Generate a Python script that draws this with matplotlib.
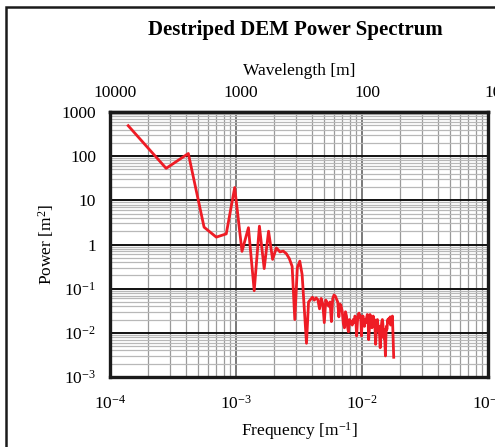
import numpy as np
import matplotlib.pyplot as plt
from matplotlib.patches import Rectangle
from matplotlib.transforms import ScaledTranslation

plt.rcParams['font.family'] = ['Liberation Serif', 'DejaVu Serif']
plt.rcParams['mathtext.fontset'] = 'custom'
plt.rcParams['mathtext.rm'] = 'Liberation Serif'
plt.rcParams['mathtext.it'] = 'Liberation Serif'

# frequency step of the spectrum [1/m]
df = 1.0 / 7168.0

# power [m^2], one value per harmonic k = 1..128
power = [
    490, 53, 115, 2.47, 1.47, 1.74, 19.5, 0.70, 2.4, 0.09,
    2.6, 0.285, 2.0, 0.46, 0.84, 0.68, 0.71, 0.62, 0.48, 0.32,
    0.02, 0.30, 0.42, 0.21, 0.035, 0.0058, 0.05, 0.057, 0.064, 0.055,
    0.062, 0.056, 0.035, 0.06, 0.045, 0.017, 0.055, 0.048, 0.04, 0.05,
    0.018, 0.06, 0.072, 0.068, 0.058, 0.05, 0.023, 0.045, 0.04, 0.03,
    0.016, 0.013, 0.03, 0.024, 0.014, 0.0105, 0.02, 0.016, 0.018, 0.015,
    0.02, 0.017, 0.024, 0.022, 0.0085, 0.018, 0.026, 0.028, 0.022, 0.024,
    0.0085, 0.02, 0.024, 0.018, 0.014, 0.02, 0.017, 0.022, 0.026, 0.024,
    0.007, 0.012, 0.026, 0.022, 0.018, 0.013, 0.016, 0.024, 0.015, 0.02,
    0.012, 0.0055, 0.01, 0.018, 0.02, 0.015, 0.011, 0.014, 0.008, 0.0046,
    0.009, 0.014, 0.018, 0.02, 0.016, 0.011, 0.0075, 0.012, 0.006, 0.003,
    0.008, 0.014, 0.012, 0.016, 0.02, 0.017, 0.021, 0.019, 0.02, 0.023,
    0.015, 0.021, 0.018, 0.022, 0.024, 0.012, 0.006, 0.0028,
]
freq = df * np.arange(1, len(power) + 1)

yticks = [1e3, 1e2, 1e1, 1, 1e-1, 1e-2, 1e-3]
ylabels = ['1000', '100', '10', '1', r'$10^{-1}$', r'$10^{-2}$', r'$10^{-3}$']
xticks = [1e-4, 1e-3, 1e-2, 1e-1]
xlabels = [r'$10^{-4}$', r'$10^{-3}$', r'$10^{-2}$', r'$10^{-1}$']
wl_ticks = [10000, 1000, 100, 10]
wl_labels = ['10000', '1000', '100', '10']

fig = plt.figure(figsize=(4.95, 4.47), dpi=100)
ax = fig.add_axes([0.2222, 0.1566, 0.7636, 0.5928])

ax.plot(freq, power, color='#ee1c25', lw=2.0, zorder=3)

ax.set_xscale('log')
ax.set_yscale('log')
ax.set_xlim(1e-4, 1e-1)
ax.set_ylim(1e-3, 1e3)
ax.set_xticks(xticks)
ax.set_xticklabels(xlabels)
ax.set_yticks(yticks)
ax.set_yticklabels(ylabels)

ax.set_axisbelow(True)
ax.grid(which='major', axis='x', color='#555555', lw=1.1)
ax.grid(which='minor', axis='x', color='#9a9a9a', lw=0.9)
ax.grid(which='major', axis='y', color='#111111', lw=1.4)
ax.grid(which='minor', axis='y', color='#b8b8b8', lw=0.9)

ax.tick_params(which='both', length=0, labelsize=12.5)
ax.tick_params(axis='x', pad=13)
ax.tick_params(axis='y', pad=10)
for s in ax.spines.values():
    s.set_linewidth(2.4)
    s.set_color('#1a1a1a')

ax.set_xlabel(r'Frequency [m$^{-1}$]', fontsize=12.5, labelpad=5)
ax.set_ylabel(r'Power [m$^{2}$]', fontsize=12.5, labelpad=4)

top = ax.secondary_xaxis('top', functions=(lambda f: 1.0 / f, lambda w: 1.0 / w))
top.set_xticks(wl_ticks)
top.set_xticklabels(wl_labels)
top.tick_params(which='both', length=0, labelsize=12.5, pad=8)
top.set_xlabel('Wavelength [m]', fontsize=12.5, labelpad=7)
top.spines['top'].set_linewidth(2.4)
shift = ScaledTranslation(5 / 100, 0, fig.dpi_scale_trans)
for lab in top.get_xticklabels():
    lab.set_transform(lab.get_transform() + shift)

fig.text(0.596, 0.932, 'Destriped DEM Power Spectrum', ha='center', va='center',
         fontsize=15, fontweight='bold')

# outer frame (cut off at the right and bottom in the reference)
fig.patches.append(Rectangle((6 / 495, -0.2), 2.0, 1.2 - 7 / 447, transform=fig.transFigure,
                             fill=False, lw=1.8, edgecolor='#1a1a1a'))

fig.savefig('out.png', dpi=100)
